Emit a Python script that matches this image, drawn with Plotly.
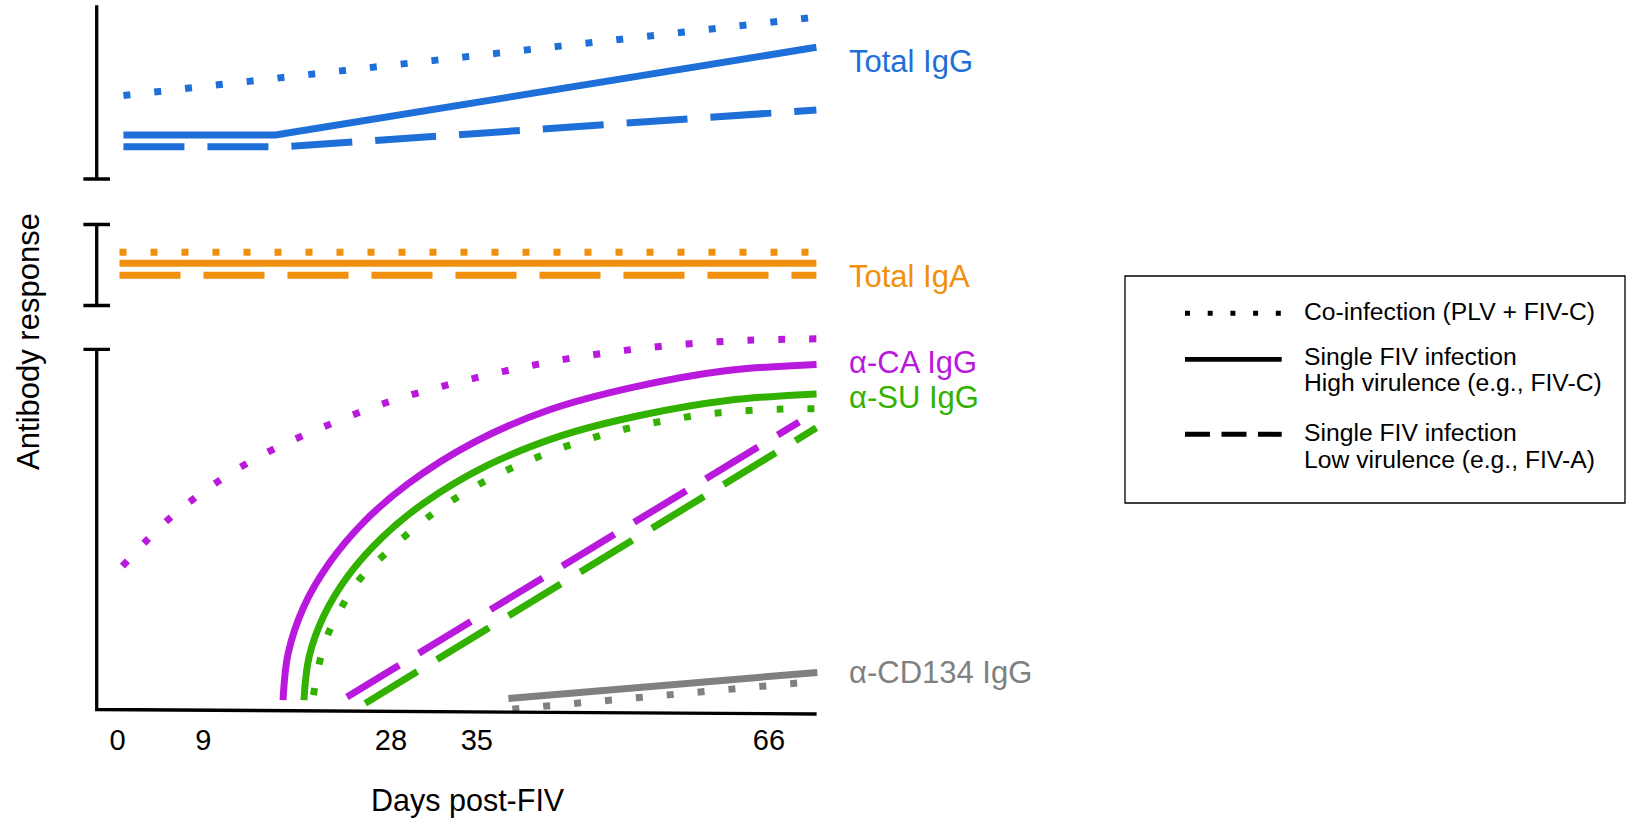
import plotly.graph_objects as go

W, H = 1627, 820
FONT = "Liberation Sans, Arial, Helvetica, sans-serif"

# ---------------- data ----------------
tick_labels = ["0", "9", "28", "35", "66"]
tick_days = [0, 8.7, 27.7, 36.4, 66]

# Total IgG panel (arbitrary response units 0-100)
igg_co_x = [0.6, 70.8]
igg_co_y = [48.0, 93.2]
igg_hi_x = [0.6, 16.0, 70.8]
igg_hi_y = [25.3, 25.3, 75.8]
igg_lo_x = [0.6, 17.0, 70.8]
igg_lo_y = [18.6, 18.6, 39.7]

# Total IgA panel
iga_x = [0.2, 70.8]
iga_co_y = [65.7, 65.7]
iga_hi_y = [52.1, 52.1]
iga_lo_y = [37.3, 37.3]

# alpha-CA IgG
ca_co_x = [0.5, 5.0, 9.9, 15.3, 21.1, 26.9, 33.0, 39.0, 45.2, 51.4, 57.7, 63.9, 70.8]
ca_co_y = [39.8, 52.4, 62.8, 71.6, 78.7, 84.9, 89.8, 93.8, 97.2, 99.7, 101.5, 102.5, 102.9]
ca_hi_x = [16.77, 17.29, 18.85, 21.44, 24.97, 29.40, 36.05, 43.76, 52.29, 61.39, 70.82]
ca_hi_y = [2.6, 15.6, 28.4, 40.6, 52.1, 62.6, 74.1, 83.2, 89.5, 94.0, 95.8]
ca_lo_x = [23.25, 69.05]
ca_lo_y = [3.5, 79.8]

# alpha-SU IgG
su_co_x = [19.85, 20.52, 21.43, 22.95, 24.64, 27.00, 31.76, 37.08, 42.64, 48.71, 54.86, 61.04, 67.29, 70.82]
su_co_y = [4.0, 13.7, 21.6, 29.6, 36.5, 42.9, 54.0, 63.2, 70.2, 75.9, 79.9, 82.4, 83.4, 83.5]
su_hi_x = [18.89, 19.40, 20.90, 23.38, 26.78, 31.03, 37.42, 44.83, 53.02, 61.76, 70.82]
su_hi_y = [2.6, 14.5, 26.0, 37.2, 47.7, 57.3, 67.7, 75.9, 81.7, 85.8, 87.6]
su_lo_x = [25.1, 70.8]
su_lo_y = [1.7, 78.2]

# alpha-CD134 IgG
cd_co_x = [40.0, 69.1]
cd_co_y = [0.1, 7.4]
cd_hi_x = [39.6, 70.9]
cd_hi_y = [3.05, 10.3]

label_texts = ["Total IgG", "Total IgA", "α-CA IgG", "α-SU IgG", "α-CD134 IgG"]
label_axes = ["y", "y2", "y3", "y3", "y3"]
label_vals = [67.8, 35.2, 96.2, 86.6, 10.3]

legend_texts = [["Co-infection (PLV + FIV-C)"],
                ["Single FIV infection", "High virulence (e.g., FIV-C)"],
                ["Single FIV infection", "Low virulence (e.g., FIV-A)"]]

# ---------------- styling / layout constants ----------------
BLUE, ORANGE, MAGENTA, GREEN, GREY = "#1f6fd9", "#f0900c", "#b919dc", "#33b100", "#808080"
DOT = "7px,24px"
DASH = "61px,23px"
LW = 7

X0_PX, PX_PER_DAY = 117.5, 9.871
x_range = [-X0_PX / PX_PER_DAY, (W - X0_PX) / PX_PER_DAY]


def day_of(px):
    return (px - X0_PX) / PX_PER_DAY


def domain(py0, py100, lo, hi):
    ppu = (py0 - py100) / 100.0
    return [1 - (py0 - lo * ppu) / H, 1 - (py0 - hi * ppu) / H]


def px(x):
    return x / W


def py(y):
    return 1 - y / H


fig = go.Figure()


def add(x, y, color, dash, yaxis, shape="linear"):
    fig.add_trace(go.Scatter(
        x=x, y=y, mode="lines", xaxis="x", yaxis=yaxis,
        line=dict(color=color, width=LW, dash=dash, shape=shape, smoothing=1.0),
        hoverinfo="skip", showlegend=False))


add(igg_co_x, igg_co_y, BLUE, DOT, "y")
add(igg_hi_x, igg_hi_y, BLUE, "solid", "y")
add(igg_lo_x, igg_lo_y, BLUE, DASH, "y")

add(iga_x, iga_co_y, ORANGE, DOT, "y2")
add(iga_x, iga_hi_y, ORANGE, "solid", "y2")
add(iga_x, iga_lo_y, ORANGE, DASH, "y2")

add(ca_co_x, ca_co_y, MAGENTA, DOT, "y3", "spline")
add(ca_hi_x, ca_hi_y, MAGENTA, "solid", "y3", "spline")
add(ca_lo_x, ca_lo_y, MAGENTA, DASH, "y3")

add(su_co_x, su_co_y, GREEN, DOT, "y3", "spline")
add(su_hi_x, su_hi_y, GREEN, "solid", "y3", "spline")
add(su_lo_x, su_lo_y, GREEN, DASH, "y3")

add(cd_co_x, cd_co_y, GREY, DOT, "y3")
add(cd_hi_x, cd_hi_y, GREY, "solid", "y3")

# ---------------- axis frames ----------------
AX = day_of(96.7)
CAP = 13.3 / PX_PER_DAY
BLK = dict(color="black", width=3.3)
shapes = []
# Total IgG: vertical bar with bottom cap
shapes.append(dict(type="line", xref="x", yref="y", x0=AX, x1=AX, y0=0, y1=100, line=BLK))
shapes.append(dict(type="line", xref="x", yref="y", x0=AX - CAP, x1=AX + CAP, y0=0, y1=0, line=BLK))
# Total IgA: bar with two caps
shapes.append(dict(type="line", xref="x", yref="y2", x0=AX, x1=AX, y0=0, y1=100, line=BLK))
for v in (0, 100):
    shapes.append(dict(type="line", xref="x", yref="y2", x0=AX - CAP, x1=AX + CAP, y0=v, y1=v, line=BLK))
# main panel: top cap + L-shaped axes
shapes.append(dict(type="line", xref="x", yref="y3", x0=AX - CAP, x1=AX + CAP, y0=100, y1=100, line=BLK))
shapes.append(dict(type="path", xref="x", yref="y3",
                   path=f"M {AX},100 L {AX},0 L {day_of(816.6)},-1.25", line=BLK))

# ---------------- legend box ----------------
shapes.append(dict(type="rect", xref="paper", yref="paper", x0=px(1125), x1=px(1625),
                   y0=py(503), y1=py(276), line=dict(color="black", width=1.3)))
shapes.append(dict(type="line", xref="paper", yref="paper", x0=px(1185), x1=px(1281), y0=py(313.3), y1=py(313.3),
                   line=dict(color="black", width=5, dash="5px,17.7px")))
shapes.append(dict(type="line", xref="paper", yref="paper", x0=px(1185), x1=px(1281.7), y0=py(359.3), y1=py(359.3),
                   line=dict(color="black", width=4.7)))
shapes.append(dict(type="line", xref="paper", yref="paper", x0=px(1185), x1=px(1281.7), y0=py(434.3), y1=py(434.3),
                   line=dict(color="black", width=5, dash="25px,11.5px")))

annotations = []
label_colors = [BLUE, ORANGE, MAGENTA, GREEN, GREY]
for t, ya, v, c in zip(label_texts, label_axes, label_vals, label_colors):
    annotations.append(dict(text=t, xref="x", yref=ya, x=day_of(846.5), y=v, xanchor="left", yanchor="middle",
                            showarrow=False, font=dict(family=FONT, size=31, color=c)))

legend_rows = [[311.7], [357.0, 382.7], [432.7, 459.5]]
for lines, rows in zip(legend_texts, legend_rows):
    for t, r in zip(lines, rows):
        annotations.append(dict(text=t, xref="paper", yref="paper", x=px(1302), y=py(r),
                                xanchor="left", yanchor="middle", showarrow=False,
                                font=dict(family=FONT, size=24.7, color="black")))

annotations.append(dict(text="Days post-FIV", xref="paper", yref="paper", x=px(467.5), y=py(800),
                        xanchor="center", yanchor="middle", showarrow=False,
                        font=dict(family=FONT, size=30.5, color="black")))
annotations.append(dict(text="Antibody response", xref="paper", yref="paper", x=px(28.5), y=py(341.4),
                        xanchor="center", yanchor="middle", showarrow=False, textangle=-90,
                        font=dict(family=FONT, size=31, color="black")))

hidden = dict(showgrid=False, zeroline=False, showline=False, showticklabels=False, ticks="", fixedrange=True)

fig.update_layout(
    width=W, height=H, margin=dict(l=0, r=0, t=0, b=0),
    paper_bgcolor="white", plot_bgcolor="rgba(0,0,0,0)",
    showlegend=False,
    xaxis=dict(domain=[0, 1], range=x_range, anchor="y3", showgrid=False, zeroline=False, showline=False,
               ticks="", tickmode="array", tickvals=tick_days, ticktext=tick_labels,
               tickfont=dict(family=FONT, size=29, color="black"), fixedrange=True),
    yaxis=dict(domain=domain(179, 5.2, -4, 102), range=[-4, 102], **hidden),
    yaxis2=dict(domain=domain(305.5, 224.5, -4, 104), range=[-4, 104], **hidden),
    yaxis3=dict(domain=domain(709.5, 349.3, -3, 110), range=[-3, 110], **hidden),
    shapes=shapes, annotations=annotations,
)

fig.write_html("out.html")
